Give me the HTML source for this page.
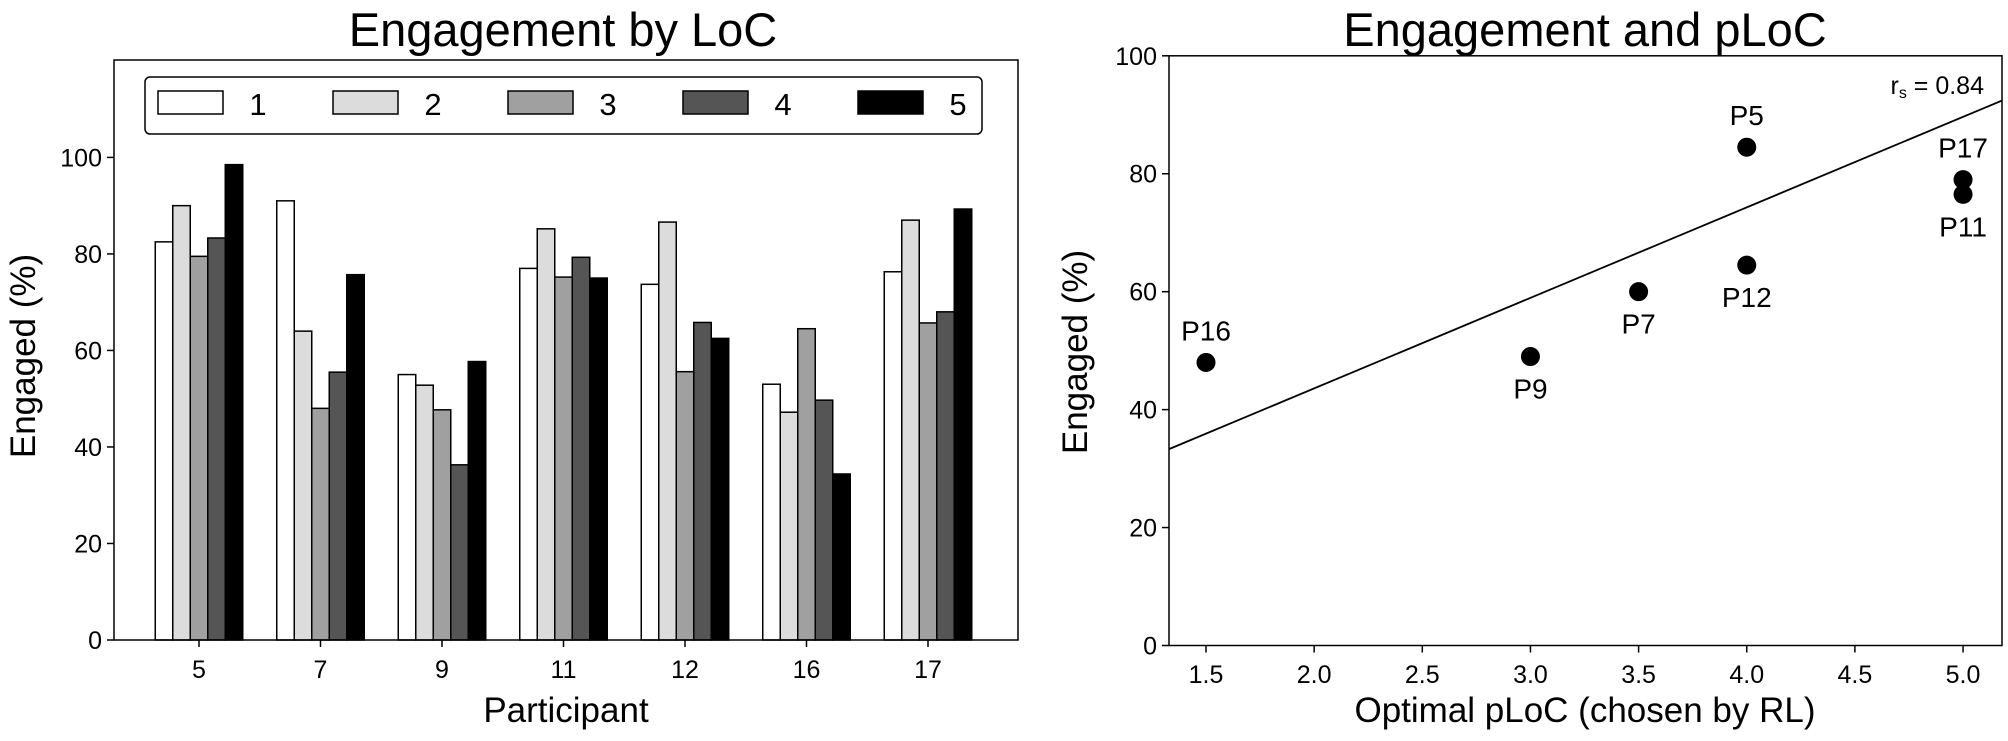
<!DOCTYPE html>
<html><head><meta charset="utf-8"><style>
html,body{margin:0;padding:0;background:#fff;}
svg{display:block;font-family:"Liberation Sans",Arial,sans-serif;}
</style></head><body>
<svg id="fig" width="2008" height="741" viewBox="0 0 2008 741" xmlns="http://www.w3.org/2000/svg">
<g id="left"></g>
<g id="right"></g>
</svg>
<script>
const participants = ["5","7","9","11","12","16","17"];
const locLevels = ["1","2","3","4","5"];
const loc1 = [82.5, 91, 55, 77, 73.7, 53, 76.3];
const loc2 = [90, 64, 52.8, 85.2, 86.6, 47.2, 87];
const loc3 = [79.5, 48, 47.7, 75.2, 55.6, 64.5, 65.7];
const loc4 = [83.3, 55.5, 36.3, 79.3, 65.8, 49.7, 68];
const loc5 = [98.5, 75.7, 57.7, 75, 62.5, 34.4, 89.3];
const leftYTicks = [0,20,40,60,80,100];

const pointLabels = ["P16","P9","P7","P5","P12","P17","P11"];
const pointX = [1.5, 3, 3.5, 4, 4, 5, 5];
const pointY = [48, 49, 60, 84.5, 64.5, 79, 76.5];
const rightXTicks = ["1.5","2.0","2.5","3.0","3.5","4.0","4.5","5.0"];
const rightYTicks = [0,20,40,60,80,100];
const fitIntercept = 12.9;
const fitSlope = 15.35;

const NS = "http://www.w3.org/2000/svg";
function mk(parent, tag, attrs, text){
  const e = document.createElementNS(NS, tag);
  for (const k in attrs) e.setAttribute(k, attrs[k]);
  if (text !== undefined) e.textContent = text;
  parent.appendChild(e);
  return e;
}
const TICK = 25;

// ---------- Left chart ----------
const L = document.getElementById('left');
const lx0 = 114, lx1 = 1018, ly0 = 640, ly100 = 157.4, lyTop = 60;
const ly = v => ly0 + (ly100 - ly0) * v / 100;
const groupX = i => 199 + i * 121.5;
const barW = 17.5;
const series = [loc1, loc2, loc3, loc4, loc5];
const fills = ["#ffffff", "#dcdcdc", "#a0a0a0", "#555555", "#000000"];

series.forEach((s, si) => {
  s.forEach((v, i) => {
    const x = groupX(i) + (si - 2.5) * barW;
    const r = mk(L, 'rect', {x: x, y: ly(v), width: barW, height: ly0 - ly(v), fill: fills[si], stroke: '#000', 'stroke-width': 1.5});
    
    
  });
});
let f = mk(L, 'rect', {x: lx0, y: lyTop, width: lx1 - lx0, height: ly0 - lyTop, fill: 'none', stroke: '#000', 'stroke-width': 1.5});


leftYTicks.forEach(t => {
  mk(L, 'line', {x1: lx0 - 7, x2: lx0, y1: ly(t), y2: ly(t), stroke: '#000', 'stroke-width': 1.5});
  const tx = mk(L, 'text', {x: lx0 - 12, y: ly(t) + 9, 'font-size': TICK, 'text-anchor': 'end'}, String(t));
  
  
});
participants.forEach((p, i) => {
  mk(L, 'line', {x1: groupX(i), x2: groupX(i), y1: ly0, y2: ly0 + 7, stroke: '#000', 'stroke-width': 1.5});
  const tx = mk(L, 'text', {x: groupX(i), y: 678, 'font-size': TICK, 'text-anchor': 'middle'}, p);
  
  
});
let t1 = mk(L, 'text', {x: 563, y: 46, 'font-size': 47, 'text-anchor': 'middle'}, 'Engagement by LoC');


let xl = mk(L, 'text', {x: 566, y: 722, 'font-size': 35, 'text-anchor': 'middle'}, 'Participant');


let yl = mk(L, 'text', {x: 0, y: 0, 'font-size': 35, 'text-anchor': 'middle', transform: 'translate(35,356) rotate(-90)'}, 'Engaged (%)');


// legend
const lg = mk(L, 'g', {});


mk(lg, 'rect', {x: 145, y: 77, width: 837, height: 57, rx: 5, fill: '#fff', stroke: '#000', 'stroke-width': 1.5});
locLevels.forEach((lv, i) => {
  const bx = 158 + i * 175;
  const g = mk(lg, 'g', {});
  
  
  mk(g, 'rect', {x: bx, y: 91, width: 65, height: 23, fill: fills[i], stroke: '#000', 'stroke-width': 1.5});
  mk(g, 'text', {x: bx + 100, y: 115, 'font-size': 31, 'text-anchor': 'middle'}, lv);
});

// ---------- Right chart ----------
const R = document.getElementById('right');
const rx0 = 1169, rx1 = 2002, ry0 = 645.5, ry100 = 55.8;
const rx = v => 1206 + (v - 1.5) * 216.3;
const ry = v => ry0 + (ry100 - ry0) * v / 100;
let rf = mk(R, 'rect', {x: rx0, y: ry100, width: rx1 - rx0, height: ry0 - ry100, fill: 'none', stroke: '#000', 'stroke-width': 1.5});


rightYTicks.forEach(t => {
  mk(R, 'line', {x1: rx0 - 7, x2: rx0, y1: ry(t), y2: ry(t), stroke: '#000', 'stroke-width': 1.5});
  const tx = mk(R, 'text', {x: rx0 - 12, y: ry(t) + 9, 'font-size': TICK, 'text-anchor': 'end'}, String(t));
  
  
});
rightXTicks.forEach(t => {
  const v = parseFloat(t);
  mk(R, 'line', {x1: rx(v), x2: rx(v), y1: ry0, y2: ry0 + 7, stroke: '#000', 'stroke-width': 1.5});
  const tx = mk(R, 'text', {x: rx(v), y: 683, 'font-size': TICK, 'text-anchor': 'middle'}, t);
  
  
});
const xa = 1.5 - (rx(1.5) - rx0) / 216.3, xb = 1.5 + (rx1 - rx(1.5)) / 216.3;
let fl = mk(R, 'line', {x1: rx(xa), y1: ry(fitIntercept + fitSlope * xa), x2: rx(xb), y2: ry(fitIntercept + fitSlope * xb), stroke: '#000', 'stroke-width': 1.8});


const below = {"P9": true, "P7": true, "P12": true, "P11": true};
pointX.forEach((x, i) => {
  const c = mk(R, 'circle', {cx: rx(x), cy: ry(pointY[i]), r: 9.5, fill: '#000'});
  
  
  const ty = below[pointLabels[i]] ? ry(pointY[i]) + 42 : ry(pointY[i]) - 22;
  const tx = mk(R, 'text', {x: rx(x), y: ty, 'font-size': 28, 'text-anchor': 'middle'}, pointLabels[i]);
  
  
});
let rs = mk(R, 'text', {x: 1984, y: 94, 'font-size': 25, 'text-anchor': 'end'});


mk(rs, 'tspan', {}, 'r');
mk(rs, 'tspan', {'font-size': 16, dy: 4}, 's');
mk(rs, 'tspan', {dy: -4}, ' = 0.84');
let t2 = mk(R, 'text', {x: 1585, y: 46, 'font-size': 47, 'text-anchor': 'middle'}, 'Engagement and pLoC');


let xl2 = mk(R, 'text', {x: 1585, y: 722, 'font-size': 35, 'text-anchor': 'middle'}, 'Optimal pLoC (chosen by RL)');


let yl2 = mk(R, 'text', {x: 0, y: 0, 'font-size': 35, 'text-anchor': 'middle', transform: 'translate(1087,352) rotate(-90)'}, 'Engaged (%)');


</script>
</body></html>
